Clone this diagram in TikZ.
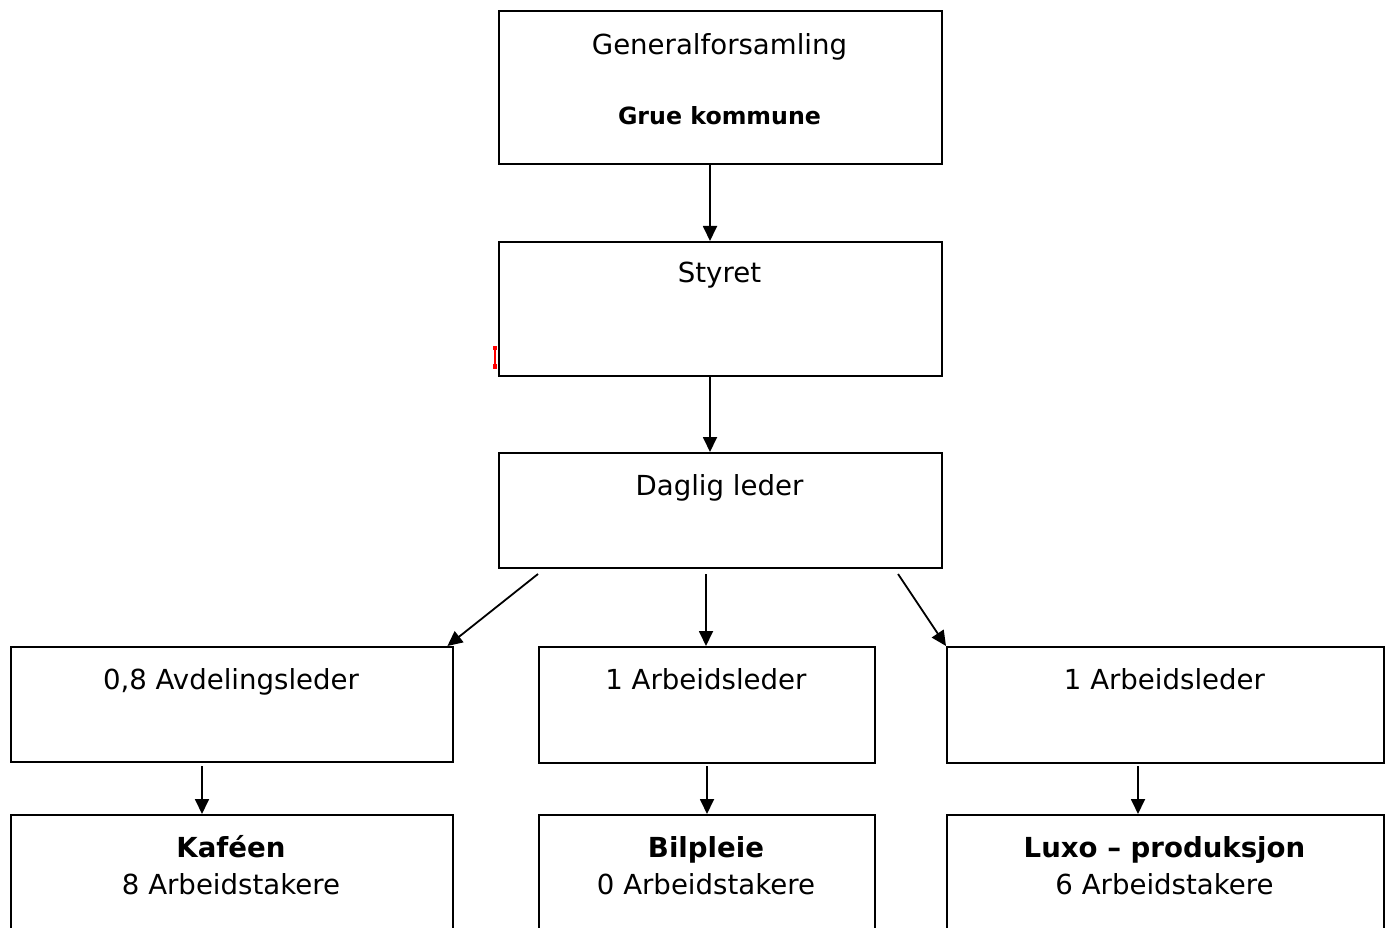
\documentclass[tikz,border=0pt]{standalone}
\usepackage{fontspec}
\setmainfont{DejaVu Sans}
\usetikzlibrary{arrows.meta}
\begin{document}
\begin{tikzpicture}[x=1pt,y=-1pt,
  box/.style={draw=black, line width=2.4pt, rectangle, inner sep=0pt, anchor=north west},
  lbl/.style={anchor=base, inner sep=0pt, font=\fontsize{27.6}{33}\selectfont},
  blbl/.style={anchor=base, inner sep=0pt, font=\fontsize{27.6}{33}\selectfont\bfseries},
  arr/.style={line width=1.8pt, -{Triangle[length=15pt,width=14pt]}}]
\useasboundingbox (0,0) rectangle (1393,928);
% red mark
\fill[red] (492.5,346) rectangle (497,350);
\fill[red] (492.5,364) rectangle (497,369);
\draw[red, line width=1.2pt] (495,347) -- (495,368);
% boxes
\node[box, minimum width=443pt, minimum height=153pt] (gen) at (498,10) {};
\node[box, minimum width=443pt, minimum height=134pt] (sty) at (498,241) {};
\node[box, minimum width=443pt, minimum height=115pt] (dag) at (498,452) {};
\node[box, minimum width=442pt, minimum height=115pt] (avd) at (10,646) {};
\node[box, minimum width=336pt, minimum height=116pt] (arb1) at (538,646) {};
\node[box, minimum width=437pt, minimum height=116pt] (arb2) at (946,646) {};
\node[box, minimum width=442pt, minimum height=140pt] (kaf) at (10,814) {};
\node[box, minimum width=336pt, minimum height=140pt] (bil) at (538,814) {};
\node[box, minimum width=437pt, minimum height=140pt] (lux) at (946,814) {};
% texts
\node[lbl] (tgen) at (719.5,55) {Generalforsamling};
\node[anchor=base, inner sep=0pt, font=\fontsize{23.7}{28}\selectfont\bfseries] (tgrue) at (719.5,125) {Grue kommune};
\node[lbl] (tsty) at (719.5,283) {Styret};
\node[lbl] (tdag) at (719.5,495) {Daglig leder};
\node[lbl] (tavd) at (231,689) {0,8 Avdelingsleder};
\node[lbl] (tarb1) at (706,689) {1 Arbeidsleder};
\node[lbl] (tarb2) at (1164.5,689) {1 Arbeidsleder};
\node[blbl] (tkaf) at (231,857) {Kaféen};
\node[lbl] (tkafn) at (231,894) {8 Arbeidstakere};
\node[blbl] (tbil) at (706,857) {Bilpleie};
\node[lbl] (tbiln) at (706,894) {0 Arbeidstakere};
\node[blbl] (tlux) at (1164.5,857) {Luxo – produksjon};
\node[lbl] (tluxn) at (1164.5,894) {6 Arbeidstakere};
% arrow start points
\coordinate (s1) at (710,164);
\coordinate (s2) at (710,376);
\coordinate (s3) at (538,574);
\coordinate (s4) at (706,574);
\coordinate (s5) at (898,574);
\coordinate (s6) at (202,766);
\coordinate (s7) at (707,766);
\coordinate (s8) at (1138,766);
% arrows
\draw[arr] (s1) -- (s1 |- sty.north);
\draw[arr] (s2) -- (s2 |- dag.north);
\draw[arr] (s3) -- ([xshift=-7pt]avd.north east);
\draw[arr] (s4) -- (s4 |- arb1.north);
\draw[arr] (s5) -- (arb2.north west);
\draw[arr] (s6) -- (s6 |- kaf.north);
\draw[arr] (s7) -- (s7 |- bil.north);
\draw[arr] (s8) -- (s8 |- lux.north);
\end{tikzpicture}
\end{document}
